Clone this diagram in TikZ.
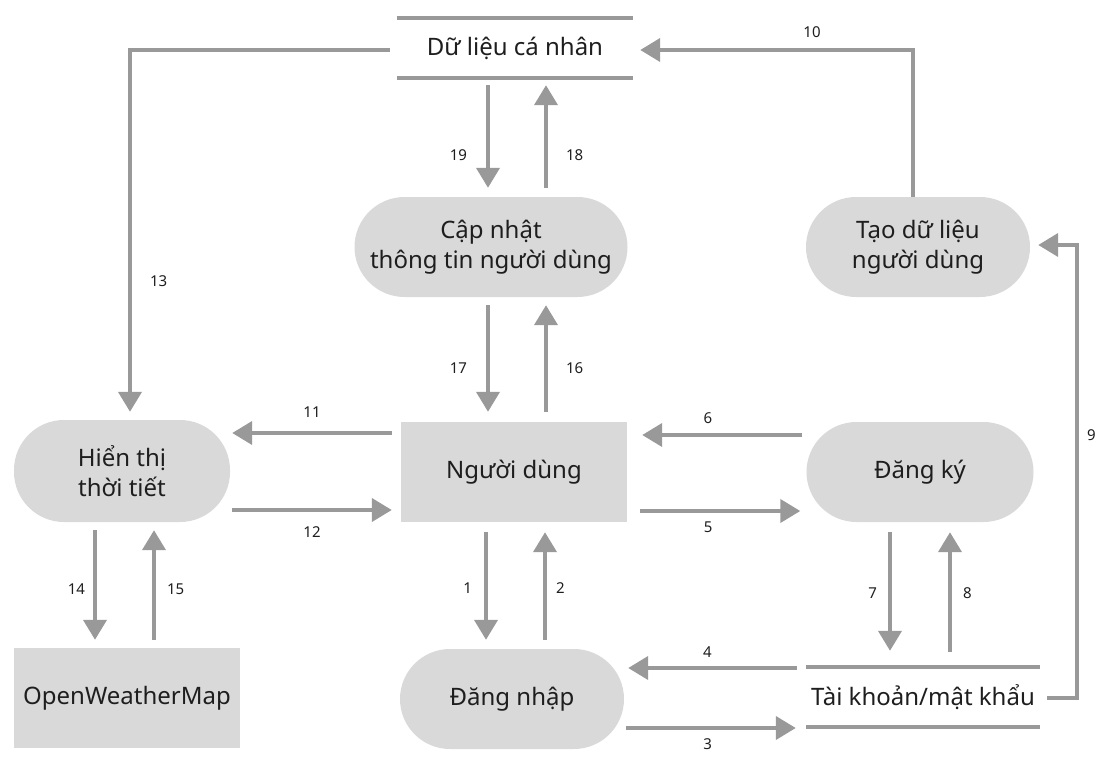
\documentclass[tikz,border=0pt]{standalone}
\usepackage{fontspec}
\setmainfont{Noto Sans}
\usetikzlibrary{arrows.meta}
\definecolor{boxgray}{HTML}{D9D9D9}
\definecolor{linegray}{HTML}{999999}
\definecolor{txtgray}{HTML}{1E1E1E}
\begin{document}
\begin{tikzpicture}[x=1pt,y=-1pt,>={Triangle[length=20pt,width=23pt]},
	pill/.style={fill=boxgray,rounded corners=50pt,minimum height=100pt,align=center,text=txtgray,font=\fontsize{24}{30}\selectfont},
	block/.style={fill=boxgray,minimum height=100pt,align=center,text=txtgray,font=\fontsize{24}{30}\selectfont},
	store/.style={minimum height=60pt,align=center,text=txtgray,font=\fontsize{24}{30}\selectfont},
	storeline/.style={draw=linegray,line width=4pt},
	flow/.style={->,draw=linegray,line width=4pt},
	num/.style={inner sep=0pt,text=txtgray,font=\fontsize{15}{18}\selectfont}]
			\useasboundingbox (0,0) rectangle (1106,765);
			\node[store,minimum width=236pt] (dl) at (515,48) {Dữ liệu cá nhân};
			\draw[storeline] (dl.north west)--(dl.north east) (dl.south west)--(dl.south east);
			\node[pill,minimum width=273pt] (cn) at (491,247) {Cập nhật\\thông tin người dùng};
			\node[pill,minimum width=224pt] (tao) at (918,247) {Tạo dữ liệu\\người dùng};
			\node[pill,minimum width=216pt,minimum height=102pt] (ht) at (122,471) {Hiển thị\\thời tiết};
			\node[block,minimum width=226pt] (nd) at (514,472) {Người dùng};
			\node[pill,minimum width=227pt] (dk) at (920,472) {Đăng ký};
			\node[block,minimum width=226pt] (owm) at (127,698) {OpenWeatherMap};
			\node[pill,minimum width=224pt] (dn) at (512,699) {Đăng nhập};
			\node[store,minimum width=234pt] (tk) at (923,697) {Tài khoản/mật khẩu};
			\draw[storeline] (tk.north west)--(tk.north east) (tk.south west)--(tk.south east);
			\draw[flow] ([xshift=-27pt,yshift=-7pt]dl.south)--([xshift=-3pt,yshift=9pt]cn.north) node[num,pos=0.68,left=19pt]{19};
			\draw[flow] ([xshift=55pt,yshift=9pt]cn.north)--([xshift=31pt,yshift=-7pt]dl.south) node[num,pos=0.32,right=18pt]{18};
			\draw[flow] ([xshift=-5pt]tao.north) |- ([xshift=7pt,yshift=-2pt]dl.east) node[num,pos=0.685,above=10pt]{10};
			\draw[flow] ([xshift=-7pt,yshift=-2pt]dl.west) -| ([xshift=8pt,yshift=8pt]ht.north) node[num,pos=0.82,right=18pt]{13};
			\draw[flow] ([xshift=-3pt,yshift=-8pt]cn.south)--([xshift=-26pt,yshift=10pt]nd.north) node[num,pos=0.59,left=19pt]{17};
			\draw[flow] ([xshift=32pt,yshift=10pt]nd.north)--([xshift=55pt,yshift=-8pt]cn.south) node[num,pos=0.41,right=18pt]{16};
			\draw[flow] ([xshift=-9pt,yshift=39pt]nd.west)--([xshift=2pt,yshift=38pt]ht.east) node[num,midway,above=14pt]{11};
			\draw[flow] ([xshift=2pt,yshift=-39pt]ht.east)--([xshift=-9pt,yshift=-38pt]nd.west) node[num,midway,below=15pt]{12};
			\draw[flow] ([xshift=-4pt,yshift=37pt]dk.west)--([xshift=15pt,yshift=37pt]nd.east) node[num,pos=0.59,above=9pt]{6};
			\draw[flow] ([xshift=13pt,yshift=-39pt]nd.east)--([xshift=-6pt,yshift=-39pt]dk.west) node[num,pos=0.425,below=9pt]{5};
			\draw[flow] ([xshift=-28pt,yshift=-10pt]nd.south)--([xshift=-26pt,yshift=9pt]dn.north) node[num,pos=0.52,left=12pt]{1};
			\draw[flow] ([xshift=33pt,yshift=9pt]dn.north)--([xshift=31pt,yshift=-10pt]nd.south) node[num,pos=0.48,right=9pt]{2};
			\draw[flow] ([xshift=-27pt,yshift=-8pt]ht.south)--([xshift=-32pt,yshift=8pt]owm.north) node[num,pos=0.54,left=8pt]{14};
			\draw[flow] ([xshift=27pt,yshift=8pt]owm.north)--([xshift=32pt,yshift=-8pt]ht.south) node[num,pos=0.46,right=11pt]{15};
			\draw[flow] ([xshift=-30pt,yshift=-10pt]dk.south)--([xshift=-33pt,yshift=16pt]tk.north) node[num,pos=0.51,left=11pt]{7};
			\draw[flow] ([xshift=27pt,yshift=15pt]tk.north)--([xshift=30pt,yshift=-10pt]dk.south) node[num,pos=0.49,right=11pt]{8};
			\draw[flow] ([xshift=-9pt,yshift=29pt]tk.west)--([xshift=4pt,yshift=31pt]dn.east) node[num,pos=0.53,above=9pt]{4};
			\draw[flow] ([xshift=2pt,yshift=-29pt]dn.east)--([xshift=-10pt,yshift=-31pt]tk.west) node[num,pos=0.48,below=9pt]{3};
			\draw[flow] ([xshift=7pt,yshift=-1pt]tk.east) -| ([xshift=47pt,yshift=2pt]tao.east) node[num,pos=0.79,right=8pt]{9} -- ([xshift=8pt,yshift=2pt]tao.east);
\end{tikzpicture}
\end{document}
